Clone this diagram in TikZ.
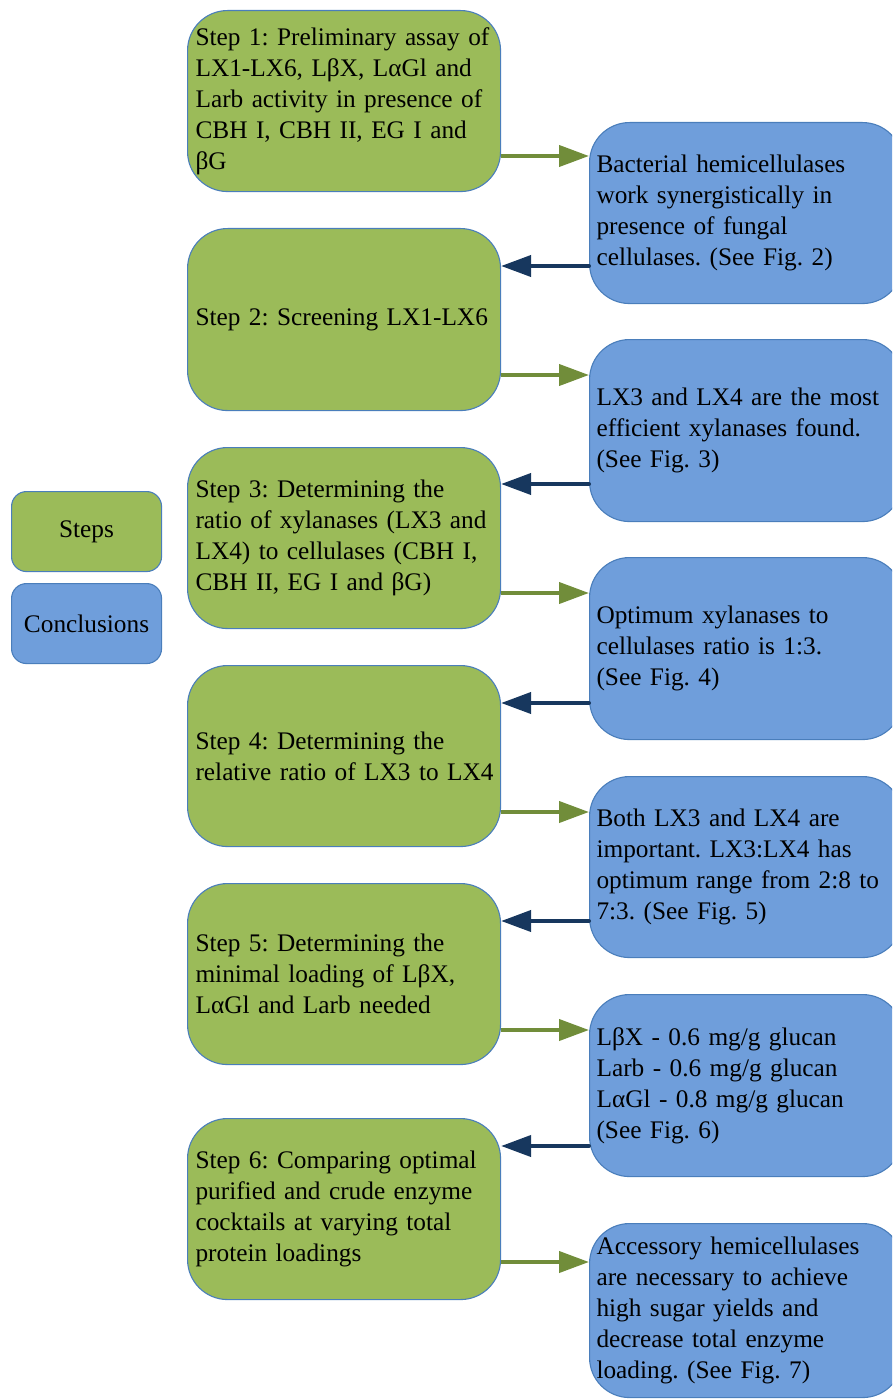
\documentclass[tikz,border=0pt]{standalone}
\usepackage{fontspec}
\setmainfont{Liberation Serif}
\usetikzlibrary{arrows.meta}
\definecolor{gfill}{HTML}{9BBB59}
\definecolor{bfill}{HTML}{6F9EDB}
\definecolor{edgeblue}{HTML}{4A7EBB}
\definecolor{garrow}{HTML}{718D3A}
\definecolor{barrow}{HTML}{17375E}
\newcommand\myl[1]{\mbox{#1}}
\tikzset{
  box/.style={draw=edgeblue, line width=1.1bp, rounded corners=40bp, minimum width=313bp,
    text width=297bp, inner xsep=8bp, inner ysep=0bp, align=left, anchor=north west,
    font=\fontsize{25.4}{31}\selectfont\frenchspacing},
  stepbox/.style={box, fill=gfill},
  conbox/.style={box, fill=bfill, inner xsep=7bp, text width=299bp},
  legbox/.style={draw=edgeblue, line width=1.1bp, rounded corners=15bp, minimum width=150bp,
    minimum height=80bp, align=center, anchor=north west, font=\fontsize{25.4}{31}\selectfont},
  garr/.style={draw=garrow, line width=4bp, -{Triangle[length=30bp,width=21bp]}},
  barr/.style={draw=barrow, line width=4bp, line cap=round, -{Triangle[length=30bp,width=21bp]}},
}
\begin{document}
\begin{tikzpicture}[x=1bp,y=-1bp]
\useasboundingbox (0,0) rectangle (892,1399);
\clip (0,0) rectangle (892,1399);
% legend
\node[legbox, fill=gfill] (lsteps) at (11,491) {Steps};
\node[legbox, fill=bfill] (lconc) at (11,583) {Conclusions};
% steps
\node[stepbox, minimum height=181bp] (g1) at (187,10) {\myl{Step 1: Preliminary assay of}\\\myl{LX1-LX6, LβX, LαGl and}\\\myl{Larb activity in presence of}\\\myl{CBH I, CBH II, EG I and}\\βG};
\node[stepbox, minimum height=182bp] (g2) at (187,228) {\myl{Step 2: Screening LX1-LX6}};
\node[stepbox, minimum height=181bp] (g3) at (187,447) {\myl{Step 3: Determining the}\\\myl{ratio of xylanases (LX3 and}\\\myl{LX4) to cellulases (CBH I,}\\\myl{CBH II, EG I and βG)}};
\node[stepbox, minimum height=181bp] (g4) at (187,665) {\myl{Step 4: Determining the}\\\myl{relative ratio of LX3 to LX4}};
\node[stepbox, minimum height=181bp] (g5) at (187,883) {\myl{Step 5: Determining the}\\\myl{minimal loading of LβX,}\\\myl{LαGl and Larb needed}};
\node[stepbox, minimum height=181bp] (g6) at (187,1118) {\myl{Step 6: Comparing optimal}\\\myl{purified and crude enzyme}\\\myl{cocktails at varying total}\\\myl{protein loadings}};
% conclusions
\node[conbox, minimum height=181bp] (b1) at (589,122) {\myl{Bacterial hemicellulases}\\\myl{work synergistically in}\\\myl{presence of fungal}\\\myl{cellulases. (See Fig. 2)}};
\node[conbox, minimum height=182bp] (b2) at (589,339) {\myl{LX3 and LX4 are the most}\\\myl{efficient xylanases found.}\\\myl{(See Fig. 3)}};
\node[conbox, minimum height=182bp] (b3) at (589,557) {\myl{Optimum xylanases to}\\\myl{cellulases ratio is 1:3.}\\\myl{(See Fig. 4)}};
\node[conbox, minimum height=181bp] (b4) at (589,776) {\myl{Both LX3 and LX4 are}\\\myl{important. LX3:LX4 has}\\\myl{optimum range from 2:8 to}\\\myl{7:3. (See Fig. 5)}};
\node[conbox, minimum height=182bp] (b5) at (589,994) {\myl{LβX - 0.6 mg/g glucan}\\\myl{Larb - 0.6 mg/g glucan}\\\myl{LαGl - 0.8 mg/g glucan}\\\myl{(See Fig. 6)}};
\node[conbox, minimum height=174bp] (b6) at (589,1223) {\myl{Accessory hemicellulases}\\\myl{are necessary to achieve}\\\myl{high sugar yields and}\\\myl{decrease total enzyme}\\\myl{loading. (See Fig. 7)}};
% arrows steps -> conclusions
\draw[garr] (g1.east |- 0,156) -- (b1.west |- 0,156);
\draw[garr] (g2.east |- 0,375) -- (b2.west |- 0,375);
\draw[garr] (g3.east |- 0,593) -- (b3.west |- 0,593);
\draw[garr] (g4.east |- 0,812) -- (b4.west |- 0,812);
\draw[garr] (g5.east |- 0,1030) -- (b5.west |- 0,1030);
\draw[garr] (g6.east |- 0,1262) -- (b6.west |- 0,1262);
% arrows conclusions -> steps
\draw[barr] (b1.west |- 0,266) -- (g2.east |- 0,266);
\draw[barr] (b2.west |- 0,484) -- (g3.east |- 0,484);
\draw[barr] (b3.west |- 0,703) -- (g4.east |- 0,703);
\draw[barr] (b4.west |- 0,921) -- (g5.east |- 0,921);
\draw[barr] (b5.west |- 0,1146) -- (g6.east |- 0,1146);
\end{tikzpicture}
\end{document}
